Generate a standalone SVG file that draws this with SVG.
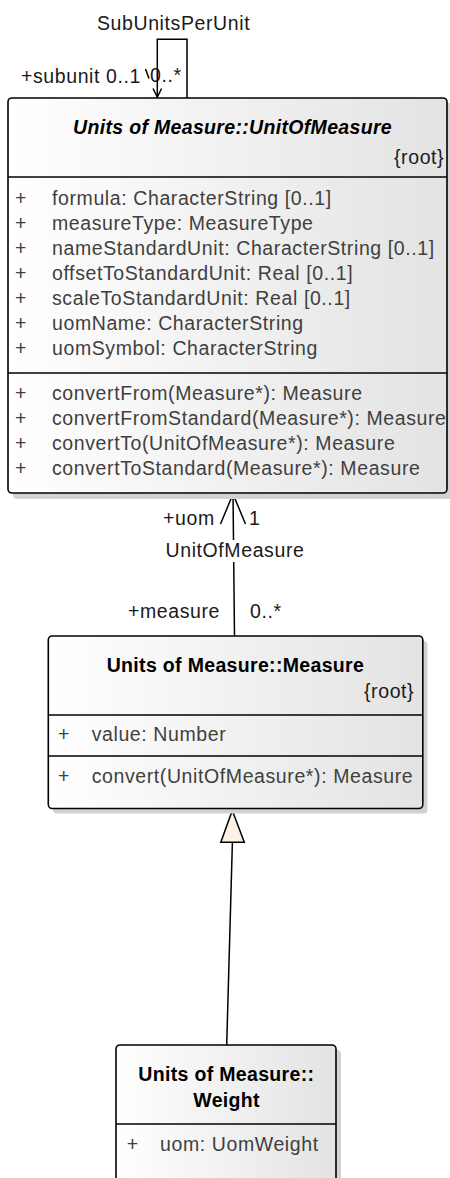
<svg xmlns="http://www.w3.org/2000/svg" width="450" height="1178" viewBox="0 0 450 1178">
<defs>
<linearGradient id="g" x1="0" y1="0" x2="1" y2="0">
<stop offset="0" stop-color="#ffffff"/>
<stop offset="1" stop-color="#e3e3e3"/>
</linearGradient>
<style>
text{font-family:"Liberation Sans",Arial,sans-serif;font-size:19.5px;letter-spacing:0.6px}
.t{font-weight:bold;letter-spacing:0.33px;fill:#000}
.ti{font-weight:bold;font-style:italic;letter-spacing:0.33px;fill:#000}
.a{fill:#404040}
.l{fill:#1a1a1a}
.box{fill:url(#g);stroke:#000;stroke-width:1.6}
.sh{fill:#d2d2d6}
.sep{stroke:#000;stroke-width:1.4}
.ln{stroke:#000;stroke-width:1.5;fill:none}
</style>
</defs>
<g id="connectors">
<path class="ln" d="M187,98 V39.3 H157.3 V97"/>
<path class="ln" d="M153,88.5 L157.3,97 L161.6,88.5"/>
<line class="ln" x1="145.5" y1="69" x2="149" y2="78.5"/>
<text class="l" x="97" y="30">SubUnitsPerUnit</text>
<text class="l" x="21" y="83">+subunit 0..1</text>
<text class="l" x="150" y="82">0..*</text>
<path class="ln" d="M233,493 L234.5,636"/>
<path class="ln" d="M220.5,524 L233,494 L245.5,524"/>
<rect x="164" y="540" width="140" height="22" fill="#fff"/>
<text class="l" x="165.5" y="557">UnitOfMeasure</text>
<text class="l" x="163" y="525">+uom</text>
<text class="l" x="249" y="525">1</text>
<text class="l" x="128" y="618">+measure</text>
<text class="l" x="250" y="618">0..*</text>
<line class="ln" x1="232.4" y1="842" x2="226.7" y2="1045"/>
<path d="M232.3,810.5 L244.3,842.3 L220.8,842.3 Z" fill="#fbf2e4" stroke="#000" stroke-width="1.5" stroke-linejoin="miter"/>
</g>
<g id="UnitOfMeasure">
<rect class="sh" x="13" y="103" width="440" height="396" rx="4"/>
<rect class="box" x="8" y="98" width="439" height="395" rx="4"/>
<text class="ti" x="73" y="134">Units of Measure::UnitOfMeasure</text>
<text class="l" x="394" y="164">{root}</text>
<line class="sep" x1="8" y1="177" x2="447" y2="177"/>
<g class="a">
<text x="15" y="205">+</text><text x="52" y="205">formula: CharacterString [0..1]</text>
<text x="15" y="230">+</text><text x="52" y="230">measureType: MeasureType</text>
<text x="15" y="255">+</text><text x="52" y="255">nameStandardUnit: CharacterString [0..1]</text>
<text x="15" y="280">+</text><text x="52" y="280">offsetToStandardUnit: Real [0..1]</text>
<text x="15" y="305">+</text><text x="52" y="305">scaleToStandardUnit: Real [0..1]</text>
<text x="15" y="330">+</text><text x="52" y="330">uomName: CharacterString</text>
<text x="15" y="355">+</text><text x="52" y="355">uomSymbol: CharacterString</text>
</g>
<line class="sep" x1="8" y1="373" x2="447" y2="373"/>
<g class="a">
<text x="15" y="400">+</text><text x="52" y="400">convertFrom(Measure*): Measure</text>
<text x="15" y="425">+</text><text x="52" y="425">convertFromStandard(Measure*): Measure</text>
<text x="15" y="450">+</text><text x="52" y="450">convertTo(UnitOfMeasure*): Measure</text>
<text x="15" y="475">+</text><text x="52" y="475">convertToStandard(Measure*): Measure</text>
</g>
</g>
<g id="Measure">
<rect class="sh" x="53" y="641" width="374.5" height="172.5" rx="4"/>
<rect class="box" x="48.3" y="636" width="374.5" height="172.5" rx="4"/>
<text class="t" x="106.7" y="672">Units of Measure::Measure</text>
<text class="l" x="364" y="698">{root}</text>
<line class="sep" x1="48.3" y1="715" x2="422.8" y2="715"/>
<g class="a">
<text x="58" y="741">+</text><text x="91.7" y="741">value: Number</text>
</g>
<line class="sep" x1="48.3" y1="756" x2="422.8" y2="756"/>
<g class="a">
<text x="58" y="783">+</text><text x="91.7" y="783">convert(UnitOfMeasure*): Measure</text>
</g>
</g>
<g id="Weight">
<rect class="sh" x="121" y="1050" width="220" height="160" rx="4"/>
<rect class="box" x="116" y="1045" width="220" height="160" rx="4"/>
<text class="t" x="138.3" y="1081">Units of Measure::</text>
<text class="t" x="193.3" y="1107">Weight</text>
<line class="sep" x1="116" y1="1124" x2="336" y2="1124"/>
<g class="a">
<text x="126.7" y="1151">+</text><text x="160" y="1151">uom: UomWeight</text>
</g>
</g>
</svg>
